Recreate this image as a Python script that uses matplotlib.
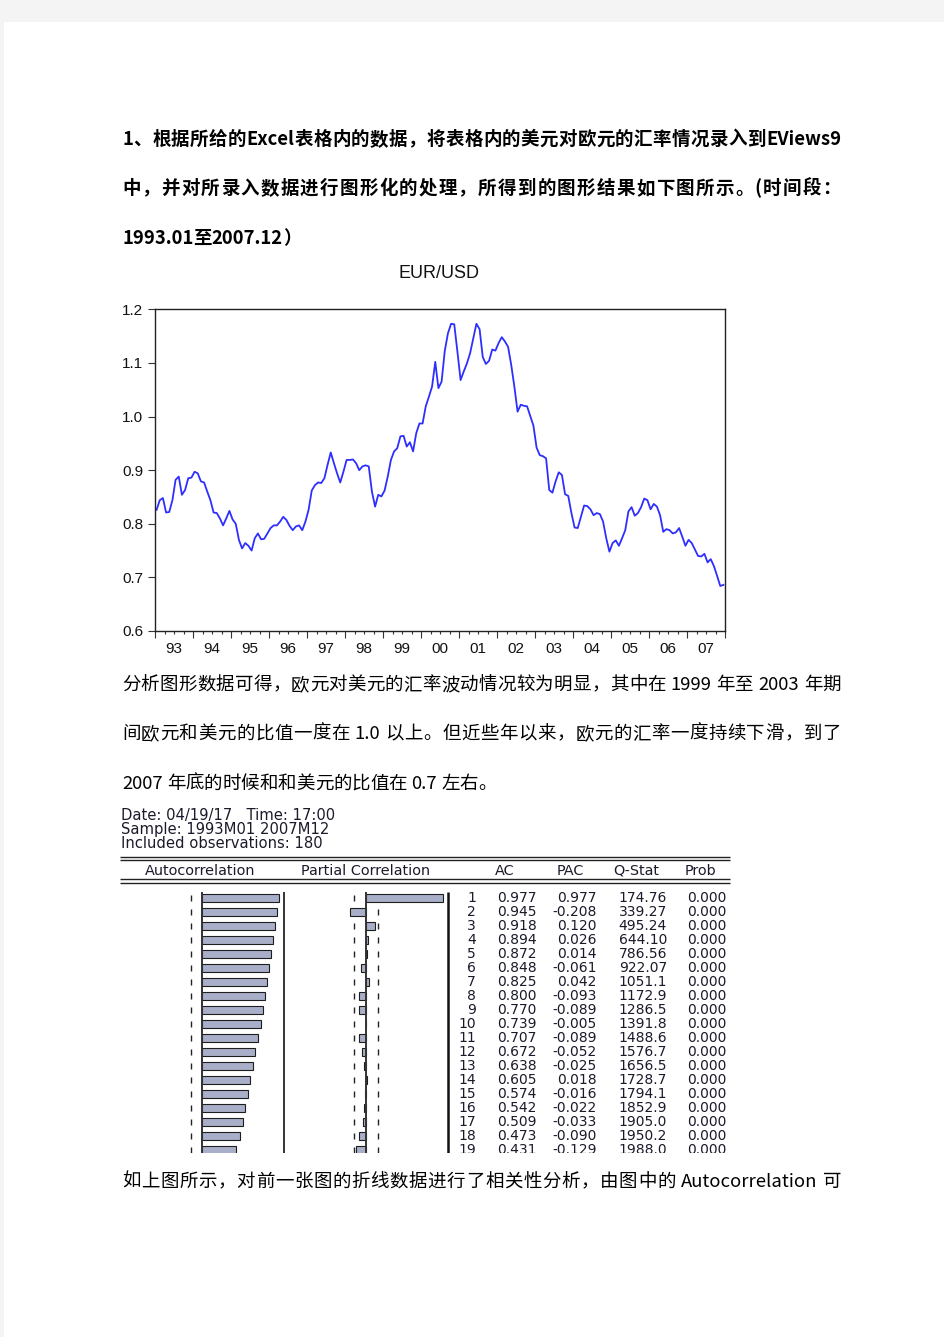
import re
import numpy as np
import matplotlib
matplotlib.use('Agg')
import matplotlib.pyplot as plt
from matplotlib.patches import Rectangle
from matplotlib.font_manager import FontProperties

plt.rcParams['font.family'] = ['Noto Sans CJK SC', 'DejaVu Sans']

# ---- data ----
first_year = 1993
eur_usd = [
    0.826, 0.844, 0.848, 0.821, 0.822, 0.844, 0.882, 0.888, 0.854, 0.863, 0.885, 0.886,  # 93
    0.897, 0.894, 0.879, 0.877, 0.860, 0.844, 0.821, 0.820, 0.810, 0.797, 0.810, 0.824,  # 94
    0.808, 0.800, 0.770, 0.754, 0.764, 0.759, 0.750, 0.773, 0.782, 0.771, 0.772, 0.782,  # 95
    0.792, 0.797, 0.797, 0.804, 0.813, 0.807, 0.796, 0.788, 0.795, 0.797, 0.788, 0.804,  # 96
    0.826, 0.862, 0.872, 0.877, 0.876, 0.885, 0.910, 0.933, 0.913, 0.894, 0.877, 0.897,  # 97
    0.919, 0.919, 0.920, 0.913, 0.900, 0.907, 0.909, 0.907, 0.860, 0.832, 0.854, 0.851,  # 98
    0.862, 0.888, 0.919, 0.935, 0.941, 0.963, 0.964, 0.944, 0.952, 0.935, 0.969, 0.987,  # 99
    0.987, 1.019, 1.037, 1.056, 1.102, 1.053, 1.065, 1.122, 1.155, 1.173, 1.172, 1.121,  # 00
    1.068, 1.084, 1.099, 1.118, 1.146, 1.173, 1.163, 1.111, 1.098, 1.104, 1.125, 1.123,  # 01
    1.137, 1.148, 1.140, 1.130, 1.096, 1.055, 1.009, 1.022, 1.020, 1.019, 1.001, 0.983,  # 02
    0.942, 0.928, 0.926, 0.922, 0.863, 0.858, 0.879, 0.896, 0.891, 0.855, 0.852, 0.820,  # 03
    0.793, 0.792, 0.813, 0.834, 0.833, 0.827, 0.816, 0.820, 0.818, 0.804, 0.773, 0.748,  # 04
    0.764, 0.769, 0.759, 0.773, 0.788, 0.823, 0.831, 0.815, 0.820, 0.831, 0.847, 0.844,  # 05
    0.827, 0.837, 0.832, 0.816, 0.785, 0.790, 0.788, 0.782, 0.784, 0.792, 0.776, 0.759,  # 06
    0.770, 0.764, 0.752, 0.740, 0.739, 0.744, 0.728, 0.734, 0.721, 0.703, 0.684, 0.686,  # 07
]
year_labels = ['93', '94', '95', '96', '97', '98', '99', '00', '01', '02', '03', '04', '05', '06', '07']
y_ticks = [0.6, 0.7, 0.8, 0.9, 1.0, 1.1, 1.2]

n_obs = 180
lags = np.arange(1, 20)
ac = [0.977, 0.945, 0.918, 0.894, 0.872, 0.848, 0.825, 0.800, 0.770, 0.739,
      0.707, 0.672, 0.638, 0.605, 0.574, 0.542, 0.509, 0.473, 0.431]
pac = [0.977, -0.208, 0.120, 0.026, 0.014, -0.061, 0.042, -0.093, -0.089, -0.005,
       -0.089, -0.052, -0.025, 0.018, -0.016, -0.022, -0.033, -0.090, -0.129]
q_stat = [174.76, 339.27, 495.24, 644.10, 786.56, 922.07, 1051.1, 1172.9, 1286.5, 1391.8,
          1488.6, 1576.7, 1656.5, 1728.7, 1794.1, 1852.9, 1905.0, 1950.2, 1988.0]
prob = [0.0] * 19

info_lines = ['Date: 04/19/17   Time: 17:00', 'Sample: 1993M01 2007M12',
              'Included observations: 180']
col_heads = ['Autocorrelation', 'Partial Correlation', 'AC', 'PAC', 'Q-Stat', 'Prob']

para1 = ['1、根据所给的Excel表格内的数据，将表格内的美元对欧元的汇率情况录入到EViews9',
         '中，并对所录入数据进行图形化的处理，所得到的图形结果如下图所示。(时间段：',
         '1993.01至2007.12）']
para2 = ['分析图形数据可得，欧元对美元的汇率波动情况较为明显，其中在 1999 年至 2003 年期',
         '间欧元和美元的比值一度在 1.0 以上。但近些年以来，欧元的汇率一度持续下滑，到了',
         '2007 年底的时候和和美元的比值在 0.7 左右。']
para3 = ['如上图所示，对前一张图的折线数据进行了相关性分析，由图中的 Autocorrelation 可']

# ---- page ----
W, H = 945, 1337
fig = plt.figure(figsize=(W / 100, H / 100), dpi=100, facecolor='#f4f4f4')
page = fig.add_axes([0, 0, 1, 1])
page.set_xlim(0, W)
page.set_ylim(H, 0)
page.axis('off')
page.add_patch(Rectangle((4, 22), W, H, facecolor='white', edgecolor='none'))

renderer = fig.canvas.get_renderer()
cjk = ['Noto Sans CJK SC', 'DejaVu Sans']


def adv(s, prop):
    w1 = renderer.get_text_width_height_descent('X' + s + 'X', prop, ismath=False)[0]
    w0 = renderer.get_text_width_height_descent('XX', prop, ismath=False)[0]
    return w1 - w0


def put_line(s, base, size=13.3, weight='normal', justify=True, x0=122, x1=841):
    prop = FontProperties(family=cjk, size=size, weight=weight)
    toks = re.findall(r'[!-~]+| |.', s)
    widths = [adv(t, prop) for t in toks]
    gap = 0
    if justify and len(toks) > 1:
        gap = (x1 - x0 - sum(widths)) / (len(toks) - 1)
    x = x0
    for t, w in zip(toks, widths):
        if t != ' ':
            page.text(x, base, t, fontproperties=prop, ha='left', va='baseline', color='black')
        x += w + gap


for i, (line, b) in enumerate(zip(para1, [145, 194, 244])):
    put_line(line, b, weight='bold', justify=i < len(para1) - 1)
for i, (line, b) in enumerate(zip(para2, [690, 739, 789])):
    put_line(line, b, justify=i < len(para2) - 1)
put_line(para3[0], 1187)

# ---- line chart ----
ax = fig.add_axes([155 / W, 1 - 631 / H, 570 / W, (631 - 309.3) / H])
x = first_year + (np.arange(len(eur_usd)) + 0.5) / 12
ax.plot(x, eur_usd, color='#2e2eff', lw=1.3)
n_years = len(year_labels)
ax.set_xlim(first_year, first_year + n_years)
ax.set_ylim(y_ticks[0], y_ticks[-1])
ax.set_xticks(np.arange(first_year, first_year + n_years + 1))
ax.set_xticklabels([])
ax.set_xticks(np.arange(first_year, first_year + n_years + 0.01, 0.25), minor=True)
ax.set_yticks(y_ticks)
ax.set_yticklabels(['%.1f' % v for v in y_ticks], family='Liberation Sans', fontsize=11)
ax.tick_params(axis='both', which='major', direction='out', length=5, width=0.8,
               color='#333333', pad=3.5, labelcolor='#111111')
ax.tick_params(axis='x', which='minor', direction='out', length=2.5, width=0.8, color='#333333')
for sp in ax.spines.values():
    sp.set_color('#222222')
    sp.set_linewidth(1.0)
for k, lab in enumerate(year_labels):
    ax.text(first_year + 0.5 + k, -0.034, lab, transform=ax.get_xaxis_transform(),
            ha='center', va='top', family='Liberation Sans', fontsize=11, color='#111111')
page.text(439, 273, 'EUR/USD', ha='center', va='center', family='Liberation Sans',
          fontsize=13, color='#111111')

# ---- correlogram ----
tfont = dict(family='DejaVu Sans', fontsize=10, color='#1a1a2a')
for s, y in zip(info_lines, [815.5, 829.5, 843]):
    page.text(121, y, s, ha='left', va='center', family='DejaVu Sans', fontsize=10.6,
              color='#1a1a2a')
page.hlines([857, 860, 879, 883], 120, 730, color='#222222', lw=1.0)
for s, cx in zip(col_heads, [200, 366, 505, 570, 636, 700]):
    page.text(cx, 871, s, ha='center', va='center', family='DejaVu Sans', fontsize=10.4,
              color='#1a1a2a')

tab_top, tab_bot = 885, 1153
row0, row_h = 898, 14


def lag_at(py):
    return 1 + (py - row0) / row_h


ylo, yhi = lag_at(tab_top), lag_at(tab_bot)
scale = 79.0
bound = 2 / np.sqrt(n_obs)


def table_axes(px0, px1, zero=None):
    a = fig.add_axes([px0 / W, 1 - tab_bot / H, (px1 - px0) / W, (tab_bot - tab_top) / H])
    if zero is None:
        a.set_xlim(px0, px1)
    else:
        a.set_xlim((px0 - zero) / scale, (px1 - zero) / scale)
    a.set_ylim(yhi, ylo)
    a.axis('off')
    return a


for vals, px0, px1, zero in [(ac, 110, 300, 202.3), (pac, 290, 460, 366)]:
    a = table_axes(px0, px1, zero)
    a.vlines([-bound, bound] * len(lags), np.repeat(lags, 2) - 0.2, np.repeat(lags, 2) + 0.2,
             color='#222222', lw=1.0, zorder=1)
    a.barh(lags, vals, height=0.6, left=0, color='#a9afc8', edgecolor='#1e1e1e',
           lw=0.8, zorder=3)
    a.vlines(0, lag_at(891.5), yhi, color='#333333', lw=1.4, zorder=4)
    a.vlines(82 / scale, lag_at(891.5), yhi, color='#111111',
             lw=1.2 if zero < 300 else 1.8, zorder=4)

nums = table_axes(0, W)
for i, lag in enumerate(lags):
    q = q_stat[i]
    row = [(476, '%d' % lag), (537, '%.3f' % ac[i]), (597, '%.3f' % pac[i]),
           (667, '%.2f' % q if q < 1000 else '%.1f' % q), (727, '%.3f' % prob[i])]
    for cx, s in row:
        nums.text(cx, lag, s, ha='right', va='center', clip_on=True, **tfont)

fig.savefig('out.png', dpi=100, facecolor=fig.get_facecolor())
